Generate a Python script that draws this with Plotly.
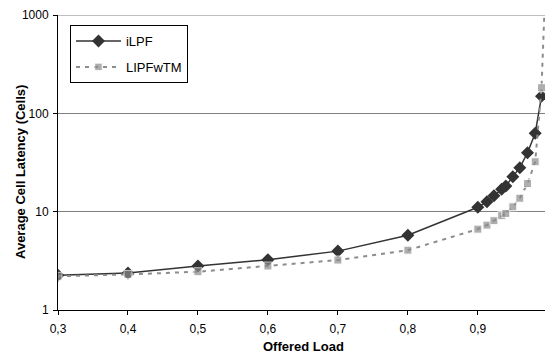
import plotly.graph_objects as go

offered_load = [0.3, 0.4, 0.5, 0.6, 0.7, 0.8, 0.9, 0.913, 0.923, 0.934, 0.94,
                0.95, 0.96, 0.971, 0.982, 0.991]
ilpf = [2.25, 2.38, 2.8, 3.25, 3.97, 5.75, 11.1, 12.6, 14.5, 16.9, 18.2,
        22.7, 28.0, 39.7, 62.7, 149]
lipfwtm_load = offered_load + [0.995]
lipfwtm = [2.2, 2.3, 2.45, 2.8, 3.22, 4.06, 6.64, 7.3, 8.1, 9.1, 9.6,
           11.2, 13.7, 19.3, 32.2, 182, 1000]

y_tickvals = [1, 10, 100, 1000]
y_ticktext = ["1", "10", "100", "1000"]
x_tickvals = [0.3, 0.4, 0.5, 0.6, 0.7, 0.8, 0.9]
x_title = "Offered Load"
y_title = "Average Cell Latency (Cells)"

font_family = "Liberation Sans, Arial, sans-serif"

fig = go.Figure()
fig.add_trace(go.Scatter(
    x=offered_load, y=ilpf, name="iLPF", mode="lines+markers",
    line=dict(color="#333333", width=1.5),
    marker=dict(symbol="diamond", size=10, color="#333333"),
    legendgroup="a",
))
sq_sizes = [8] * (len(lipfwtm) - 1) + [0]
fig.add_trace(go.Scatter(
    x=lipfwtm_load, y=lipfwtm, name="LIPFwTM", mode="lines+markers",
    line=dict(color="#8c8c8c", width=2, dash="4px,5px"),
    marker=dict(symbol="square", size=sq_sizes, color="#8c8c8c"),
    legendgroup="b",
))

# top gridline at the last y tick (plotly hides gridlines on the plot edge)
fig.add_shape(type="line", xref="paper", yref="y",
              x0=0, x1=1, y0=y_tickvals[-1], y1=y_tickvals[-1],
              line=dict(color="#808080", width=1), layer="below")

fig.update_layout(
    width=546, height=353,
    margin=dict(l=58, r=1, t=15, b=43),
    paper_bgcolor="white", plot_bgcolor="white",
    separators=", ",
    font=dict(family=font_family, size=12, color="black"),
    showlegend=True,
    legend=dict(
        x=0.0246, y=0.966, xanchor="left", yanchor="top",
        bordercolor="black", borderwidth=1, bgcolor="white",
        font=dict(size=13), tracegroupgap=6, itemwidth=45,
    ),
    xaxis=dict(
        range=[0.3, 0.996], tickvals=x_tickvals, tickformat=".1f",
        showline=True, linecolor="black", linewidth=1,
        ticks="outside", ticklen=4, tickcolor="black",
        ticklabelstandoff=4,
        showgrid=False, zeroline=False,
    ),
    yaxis=dict(
        type="log", range=[0, 3], tickvals=y_tickvals, ticktext=y_ticktext,
        showline=True, linecolor="black", linewidth=1,
        ticks="outside", ticklen=4, tickcolor="black",
        ticklabelstandoff=2,
        showgrid=True, gridcolor="#808080", gridwidth=1,
        zeroline=False,
    ),
    annotations=[
        dict(text="<b>" + x_title + "</b>", xref="paper", yref="paper",
             x=(303 - 58) / 487, y=-(346 - 310) / 295,
             xanchor="center", yanchor="middle", showarrow=False,
             font=dict(size=13)),
        dict(text="<b>" + y_title + "</b>", xref="paper", yref="paper",
             x=-(58 - 20) / 487, y=(310 - 172) / 295, textangle=-90,
             xanchor="center", yanchor="middle", showarrow=False,
             font=dict(size=13)),
    ],
)

fig.write_html("out.html")
